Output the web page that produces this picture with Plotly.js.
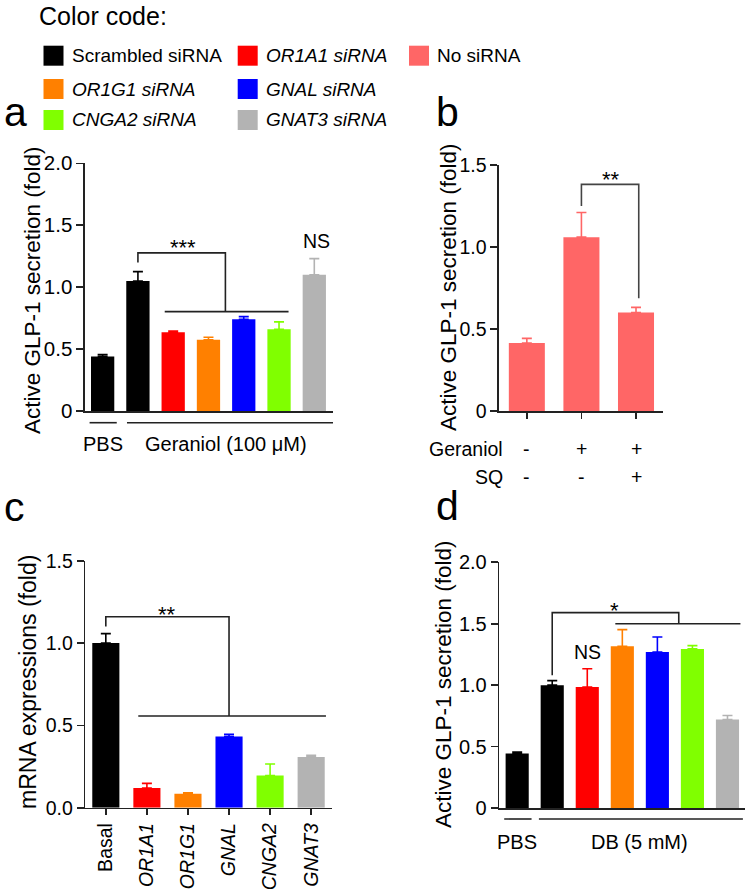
<!DOCTYPE html>
<html><head><meta charset="utf-8">
<script src="https://cdn.plot.ly/plotly-3.0.1.min.js"></script>
<style>html,body{margin:0;padding:0;background:#fff}#chart{width:750px;height:889px}</style>
</head><body><div id="chart"></div>
<script>
// ---------- DATA ----------
const BLACK = '#000000', RED = '#FF0000', ORANGE = '#FF8000', BLUE = '#0000FF',
      GREEN = '#80FF00', GRAY = '#B3B3B3', SALMON = '#FF6666';

const legendLabels = ['Scrambled siRNA', '<i>OR1A1 siRNA</i>', 'No siRNA',
                      '<i>OR1G1 siRNA</i>', '<i>GNAL siRNA</i>',
                      '<i>CNGA2 siRNA</i>', '<i>GNAT3 siRNA</i>'];
const legendColors = [BLACK, RED, SALMON, ORANGE, BLUE, GREEN, GRAY];

// panel a
const aColors = [BLACK, BLACK, RED, ORANGE, BLUE, GREEN, GRAY];
const aMeans  = [0.44, 1.05, 0.635, 0.575, 0.74, 0.66, 1.10];
const aErr    = [0.015, 0.075, 0.01, 0.02, 0.022, 0.06, 0.13];
const aGroups = ['PBS', 'Geraniol (100 \u03bcM)'];
const aGroupMembers = [[0, 0], [1, 6]];

// panel b
const bMeans = [0.415, 1.06, 0.60];
const bErr   = [0.028, 0.15, 0.032];
const bGeraniol = ['-', '+', '+'];
const bSQ       = ['-', '-', '+'];

// panel c
const cCategories = ['Basal', '<i>OR1A1</i>', '<i>OR1G1</i>', '<i>GNAL</i>', '<i>CNGA2</i>', '<i>GNAT3</i>'];
const cColors = [BLACK, RED, ORANGE, BLUE, GREEN, GRAY];
const cMeans  = [1.0, 0.12, 0.085, 0.433, 0.195, 0.308];
const cErr    = [0.057, 0.028, 0.006, 0.013, 0.07, 0.01];

// panel d
const dColors = [BLACK, BLACK, RED, ORANGE, BLUE, GREEN, GRAY];
const dMeans  = [0.443, 1.0, 0.985, 1.317, 1.27, 1.295, 0.72];
const dErr    = [0.012, 0.037, 0.149, 0.135, 0.122, 0.027, 0.033];
const dGroups = ['PBS', 'DB (5 mM)'];
const dGroupMembers = [[0, 0], [1, 6]];

// significance brackets (data units)
const aBracket = [[1, 1.20], [1, 1.277], [3.48, 1.277], [3.48, 0.802]];
const aBar     = [[1.76, 0.802], [5.27, 0.802]];
const bBracket = [[1, 1.25], [1, 1.382], [2.05, 1.382], [2.05, 0.687]];
const cBracket = [[0, 1.10], [0, 1.16], [3.0, 1.16], [3.0, 0.557]];
const cBar     = [[0.79, 0.557], [5.36, 0.557]];
const dBracket = [[1, 1.08], [1, 1.59], [4.61, 1.59], [4.61, 1.50]];
const dBar     = [[2.8, 1.50], [6.37, 1.50]];

// ---------- LAYOUT HELPERS ----------
const W = 750, H = 889;
const FONT = 'Liberation Sans, Arial, sans-serif';
const AX = '#222222';
const px = v => v / W;
const py = v => 1 - v / H;

const traces = [];
function addBars(xa, ya, means, errs, colors) {
  means.forEach((m, i) => {
    traces.push({
      type: 'bar', x: [i], y: [m], width: 0.66, xaxis: xa, yaxis: ya,
      marker: {color: colors[i], line: {width: 0}},
      error_y: {type: 'data', symmetric: false, array: [errs[i]], arrayminus: [0],
                color: colors[i], thickness: 1.6, width: 5},
      showlegend: false, hoverinfo: 'skip'
    });
  });
}
addBars('x', 'y', aMeans, aErr, aColors);
addBars('x2', 'y2', bMeans, bErr, bMeans.map(() => SALMON));
addBars('x3', 'y3', cMeans, cErr, cColors);
addBars('x4', 'y4', dMeans, dErr, dColors);

function yax(domain, range, vals, text, fs) {
  return {domain, range, tickvals: vals, ticktext: text, showgrid: false, zeroline: false,
          showline: true, linecolor: AX, linewidth: 1.6, ticks: 'outside', ticklen: 7,
          tickwidth: 1.6, tickcolor: AX, tickfont: {family: FONT, size: fs, color: '#000'},
          fixedrange: true};
}
function xax(domain, range, anchor, extra) {
  return Object.assign({domain, range, anchor, showgrid: false, zeroline: false,
          showline: true, linecolor: AX, linewidth: 1.6, ticks: '', showticklabels: false,
          fixedrange: true}, extra || {});
}

const shapes = [];
const annotations = [];

function pathShape(pts, xr, yr, color) {
  const d = pts.map((p, i) => (i ? 'L' : 'M') + p[0] + ',' + p[1]).join(' ');
  shapes.push({type: 'path', path: d, xref: xr, yref: yr, line: {color: color || AX, width: 1.6}});
}
function text(t, x, y, xr, yr, size, opts) {
  annotations.push(Object.assign({text: t, x, y, xref: xr, yref: yr, showarrow: false,
    font: {family: FONT, size, color: '#000'}, xanchor: 'center', yanchor: 'middle'}, opts || {}));
}

// legend
text('Color code:', px(37), py(16), 'paper', 'paper', 25, {xanchor: 'left'});
const slots = [[0, 0], [0, 1], [0, 2], [1, 0], [1, 1], [2, 0], [2, 1]];
const colX = [43.5, 237.7, 409], rowY = [55.7, 89, 120];
legendLabels.forEach((lab, i) => {
  const [r, c] = slots[i];
  const x0 = colX[c], yc = rowY[r];
  shapes.push({type: 'rect', xref: 'paper', yref: 'paper', x0: px(x0), x1: px(x0 + 20),
               y0: py(yc + 10), y1: py(yc - 10), fillcolor: legendColors[i], line: {width: 0}});
  text(lab, px(x0 + 26), py(yc), 'paper', 'paper', 19, {xanchor: 'left'});
});

// panel letters
text('a', px(2), py(128), 'paper', 'paper', 41, {xanchor: 'left', yanchor: 'bottom', yshift: -9});
text('b', px(434), py(128), 'paper', 'paper', 41, {xanchor: 'left', yanchor: 'bottom', yshift: -9});
text('c', px(2), py(523), 'paper', 'paper', 41, {xanchor: 'left', yanchor: 'bottom', yshift: -9});
text('d', px(434), py(522), 'paper', 'paper', 41, {xanchor: 'left', yanchor: 'bottom', yshift: -9});

// axis titles
text('Active GLP-1 secretion (fold)', px(32), py(290), 'paper', 'paper', 22.5, {textangle: -90});
text('Active GLP-1 secretion (fold)', px(448), py(287), 'paper', 'paper', 22.5, {textangle: -90});
text('mRNA expressions (fold)', px(28), py(682), 'paper', 'paper', 23, {textangle: -90});
text('Active GLP-1 secretion (fold)', px(443), py(684), 'paper', 'paper', 22.5, {textangle: -90});

// brackets and significance labels
pathShape(aBracket, 'x', 'y'); pathShape(aBar, 'x', 'y');
text('***', 2.27, 1.32, 'x', 'y', 22);
text('NS', 6.07, 1.373, 'x', 'y', 19.5);
pathShape(bBracket, 'x2', 'y2', '#444');
text('**', 1.55, 1.41, 'x2', 'y2', 22);
pathShape(cBracket, 'x3', 'y3'); pathShape(cBar, 'x3', 'y3');
text('**', 1.48, 1.175, 'x3', 'y3', 22);
pathShape(dBracket, 'x4', 'y4'); pathShape(dBar, 'x4', 'y4');
text('*', 2.79, 1.605, 'x4', 'y4', 22);
text('NS', 2.0, 1.273, 'x4', 'y4', 19.5);

// group lines below axes
function groups(names, members, xr, lineY, textY, padL, padR, lastEnd) {
  names.forEach((n, i) => {
    const [a, b] = members[i];
    const x0 = a - padL[i], x1 = (i === names.length - 1) ? lastEnd : b + padR;
    shapes.push({type: 'line', xref: xr, yref: 'paper', x0, x1, y0: py(lineY), y1: py(lineY),
                 line: {color: AX, width: 1.6}});
    text(n, (a + b) / 2, py(textY), xr, 'paper', 20);
  });
}
groups(aGroups, aGroupMembers, 'x', 422.7, 444, [0.37, 0.31], 0.4, 6.53);
groups(dGroups, dGroupMembers, 'x4', 819, 841.5, [0.37, 0.38], 0.41, 6.44);

// panel b treatment table
text('Geraniol', px(505), py(448.5), 'paper', 'paper', 19.5, {xanchor: 'right'});
text('SQ', px(505), py(477), 'paper', 'paper', 19.5, {xanchor: 'right'});
bGeraniol.forEach((s, i) => text(s, i, py(448.5), 'x2', 'paper', 19.5));
bSQ.forEach((s, i) => text(s, i, py(477), 'x2', 'paper', 19.5));

const layout = {
  width: W, height: H, margin: {l: 0, r: 0, t: 0, b: 0},
  paper_bgcolor: '#fff', plot_bgcolor: '#fff', barmode: 'overlay', showlegend: false,
  font: {family: FONT, size: 19, color: '#000'},
  xaxis:  xax([px(85), px(333)], [-0.5, 6.53], 'y'),
  yaxis:  Object.assign(yax([py(411), py(163.3)], [0, 2], [0, 0.5, 1, 1.5, 2], ['0', '0.5', '1.0', '1.5', '2.0'], 20.5), {anchor: 'x'}),
  xaxis2: xax([px(499), px(663.3)], [-0.51, 2.5], 'y2',
              {ticks: 'outside', ticklen: 6, tickwidth: 1.6, tickcolor: AX, tickvals: [0, 1, 2]}),
  yaxis2: Object.assign(yax([py(411), py(165)], [0, 1.5], [0, 0.5, 1, 1.5], ['0', '0.5', '1.0', '1.5'], 19.5), {anchor: 'x2'}),
  xaxis3: xax([px(85.3), px(331.7)], [-0.5, 5.5], 'y3',
              {ticks: 'outside', ticklen: 6, tickwidth: 1.6, tickcolor: AX,
               tickvals: cCategories.map((_, i) => i), ticktext: cCategories,
               showticklabels: true, tickangle: -90,
               tickfont: {family: FONT, size: 19.5, color: '#000'}}),
  yaxis3: Object.assign(yax([py(807.7), py(560.7)], [0, 1.5], [0, 0.5, 1, 1.5], ['0.0', '0.5', '1.0', '1.5'], 19.5), {anchor: 'x3'}),
  xaxis4: xax([px(499.3), px(745)], [-0.51, 6.5], 'y4'),
  yaxis4: Object.assign(yax([py(808), py(562.3)], [0, 2], [0, 0.5, 1, 1.5, 2], ['0', '0.5', '1.0', '1.5', '2.0'], 20), {anchor: 'x4'}),
  shapes, annotations
};

Plotly.newPlot('chart', traces, layout, {staticPlot: true, displayModeBar: false});
</script>
</body></html>
